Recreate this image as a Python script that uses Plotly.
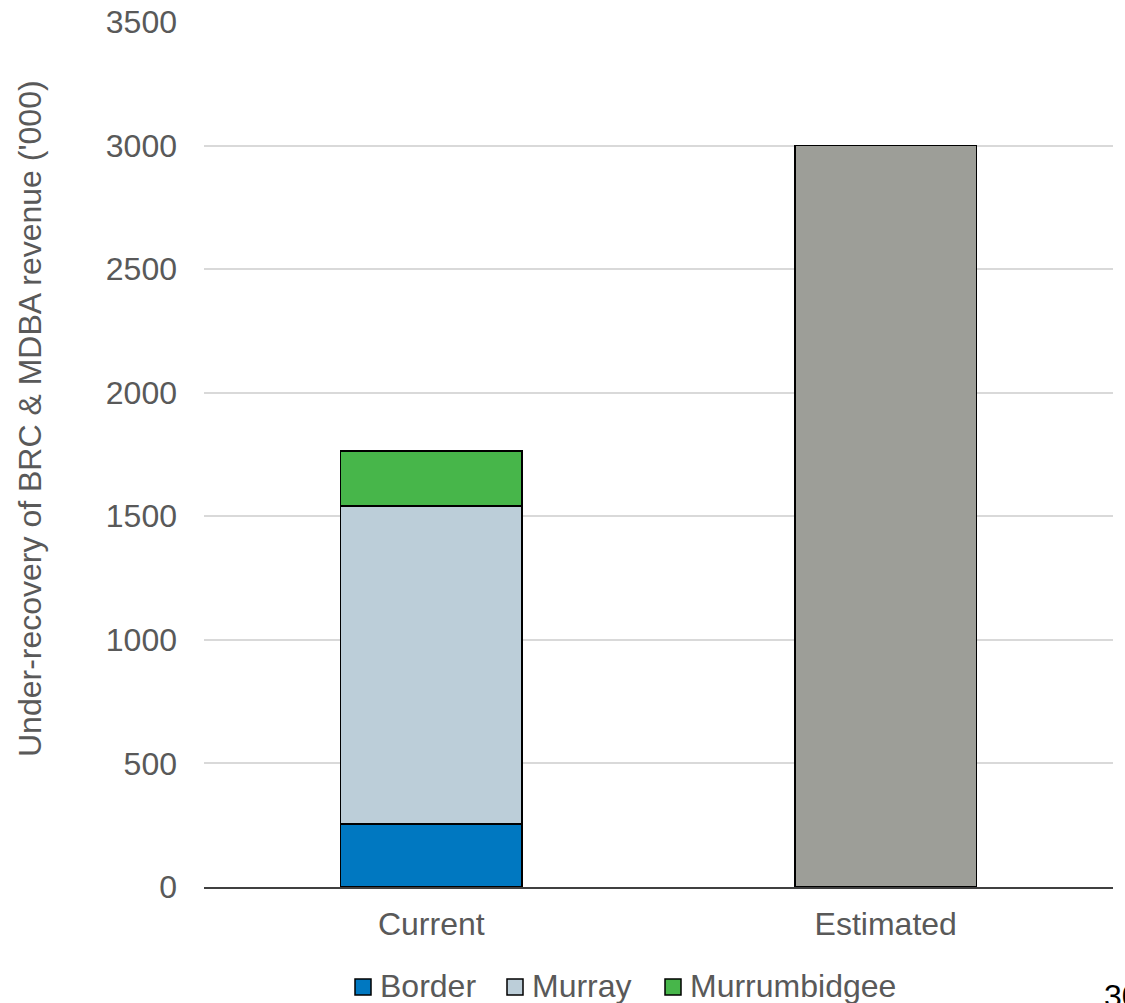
import plotly.graph_objects as go

# Under-recovery of revenue ('000), current split by valley vs estimated total
categories = ["Current", "Estimated"]
border = [255, None]
murray = [1286, None]
murrumbidgee = [223, None]
estimated = [None, 3000]

y_ticks = [0, 500, 1000, 1500, 2000, 2500, 3000, 3500]

FONT = "Liberation Sans, Arial, sans-serif"
GREY = "#595959"
outline = dict(color="#000000", width=1.5)

series = [
    ("Border", border, "#0078C1"),
    ("Murray", murray, "#BCCED9"),
    ("Murrumbidgee", murrumbidgee, "#47B64A"),
]

fig = go.Figure()
for name, vals, colour in series:
    fig.add_trace(go.Bar(name=name, x=categories, y=vals,
                         marker=dict(color=colour, line=outline)))
fig.add_trace(go.Bar(name="Estimated", x=categories, y=estimated,
                     marker=dict(color="#9D9E98", line=outline)))

# plot area in pixels
L, R, T, B = 204, 1113, 22, 887
W, H = R - L, B - T


def px(x):
    return (x - L) / W


def py(y):
    return (B - y) / H


# legend row below the axis: coloured square + label per valley
legend_x = [355, 507, 665]
legend_y = 987
box = 16
shapes, annotations = [], []
for (name, _, colour), x0 in zip(series, legend_x):
    shapes.append(dict(type="rect", xref="paper", yref="paper",
                       x0=px(x0), x1=px(x0 + box),
                       y0=py(legend_y + box / 2), y1=py(legend_y - box / 2),
                       fillcolor=colour, line=dict(color="#000000", width=1.5)))
    annotations.append(dict(text=name, xref="paper", yref="paper",
                            x=px(x0 + box + 7), y=py(legend_y - 1),
                            xanchor="left", yanchor="middle", showarrow=False,
                            font=dict(family=FONT, size=32, color=GREY)))

annotations.append(dict(text="Under-recovery of BRC & MDBA revenue ('000)", textangle=-90,
                        xref="paper", yref="paper", x=px(30), y=py(419),
                        xanchor="center", yanchor="middle", showarrow=False,
                        font=dict(family=FONT, size=32, color=GREY)))
annotations.append(dict(text="30", xref="paper", yref="paper", x=px(1102),
                        y=py(996), xanchor="left", yanchor="middle", showarrow=False,
                        font=dict(family=FONT, size=32, color="#000000")))

fig.update_layout(
    width=1125, height=1003,
    margin=dict(l=L, r=1125 - R, t=T, b=1003 - B, autoexpand=False),
    barmode="stack", bargap=0.6,
    plot_bgcolor="white", paper_bgcolor="white",
    font=dict(family=FONT, size=32, color=GREY),
    showlegend=False,
    xaxis=dict(showgrid=False, showline=True, linecolor="#404040", linewidth=1.5,
               ticks="", automargin=False, ticklabelstandoff=8,
               tickfont=dict(size=32, color=GREY)),
    yaxis=dict(range=[0, 3500], tickvals=y_ticks, showgrid=True, gridcolor="#D9D9D9",
               gridwidth=1.5, zeroline=False, showline=False, ticks="", automargin=False,
               ticklabelstandoff=26, tickfont=dict(size=32, color=GREY)),
    shapes=shapes,
    annotations=annotations,
)

fig.write_html("out.html")
